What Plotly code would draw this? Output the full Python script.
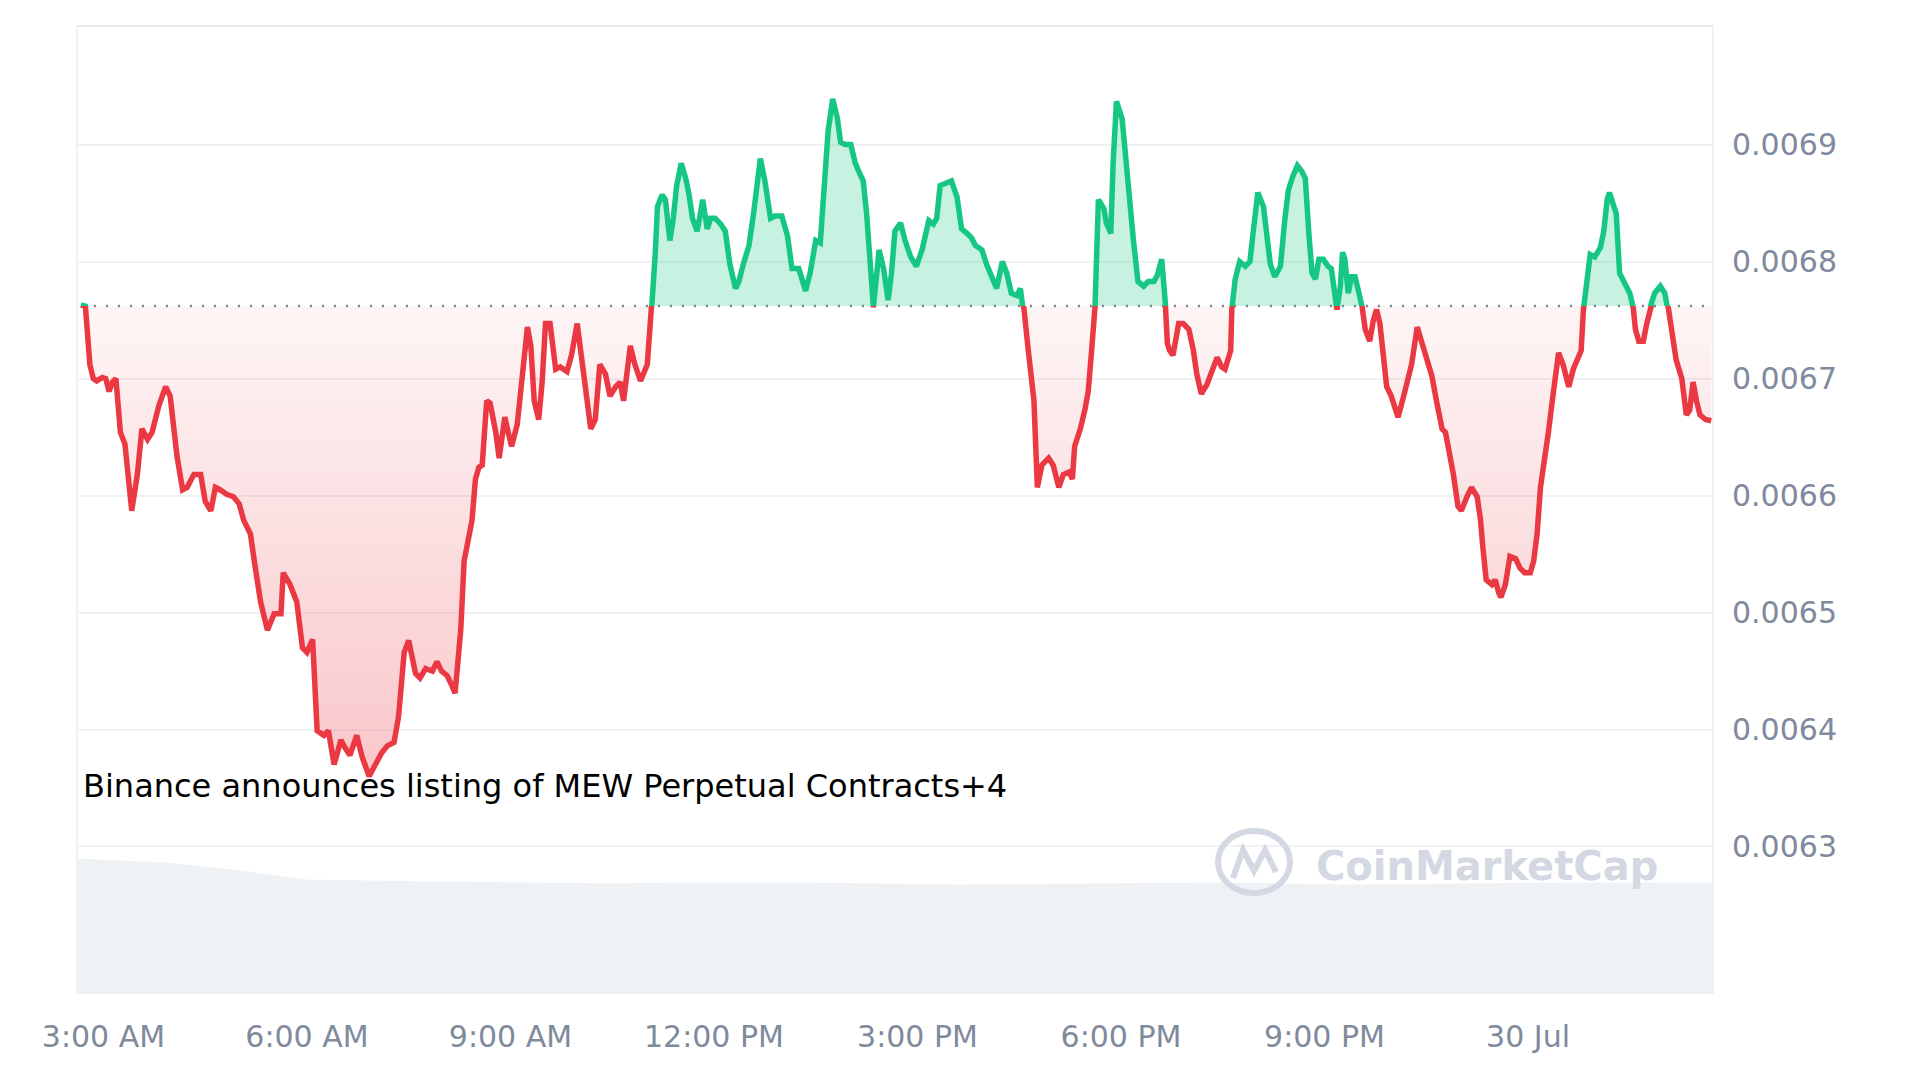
import pandas as pd
import plotly.graph_objects as go

DAY = pd.Timestamp("2024-07-29")

# price line: minutes after 29 Jul 00:00, price in USD
MINUTES = [
    # 02:40 - 06:34
    160, 164, 168, 171, 174, 179, 182, 185, 188, 191,
    195, 199, 205, 210, 214, 219, 223, 229, 235, 239,
    245, 250, 254, 260, 266, 270, 275, 279, 283, 289,
    295, 300, 304, 310, 314, 319, 325, 328, 331, 337,
    339, 345, 351, 356, 360, 365, 369, 375, 379, 384,
    390, 394,
    # 06:38 - 10:37
    398, 404, 409, 415, 420, 426, 431, 437, 441, 446,
    450, 456, 460, 465, 471, 475, 479, 484, 488, 491,
    496, 499, 503, 506, 509, 512, 515, 519, 522, 527,
    530, 532, 535, 538, 541, 546, 550, 555, 558, 561,
    565, 568, 571, 575, 580, 584, 590, 594, 599, 603,
    606, 611, 615, 619, 624, 628, 633, 637,
    # 10:40 - 14:40
    640, 643, 646, 650, 655, 661, 664, 665, 668, 670,
    674, 677, 681, 684, 687, 691, 695, 698, 701, 705,
    708, 710, 714, 717, 721, 726, 730, 734, 739, 742,
    746, 751, 755, 761, 765, 770, 774, 780, 785, 789,
    795, 801, 805, 810, 814, 817, 821, 825, 829, 832,
    836, 841, 845, 849, 852, 855, 858, 861, 864, 866,
    870, 874, 877, 880,
    # 14:45 - 18:43
    885, 889, 894, 899, 904, 910, 914, 917, 920, 925,
    930, 935, 939, 944, 948, 951, 957, 961, 966, 970,
    975, 979, 983, 988, 991, 994, 998, 1003, 1006, 1010,
    1016, 1020, 1025, 1029, 1034, 1037, 1039, 1044, 1048, 1051,
    1054, 1057, 1060, 1065, 1067, 1071, 1073, 1076, 1081, 1084,
    1087, 1091, 1095, 1100, 1104, 1109, 1112, 1116, 1119, 1121,
    1123,
    # 18:46 - 22:47
    1126, 1131, 1135, 1140, 1144, 1147, 1151, 1156, 1160, 1165,
    1169, 1172, 1177, 1178, 1181, 1185, 1190, 1194, 1197, 1201,
    1206, 1209, 1212, 1216, 1221, 1225, 1228, 1232, 1236, 1240,
    1243, 1246, 1249, 1252, 1255, 1259, 1263, 1266, 1271, 1274,
    1276, 1278, 1281, 1284, 1287, 1290, 1293, 1296, 1300, 1303,
    1306, 1309, 1312, 1315, 1319, 1325, 1330, 1334, 1337, 1342,
    1346, 1350, 1355, 1359, 1364, 1367,
    # 22:54 - 02:42 (30 Jul)
    1374, 1378, 1381, 1386, 1390, 1395, 1398, 1400, 1403, 1408,
    1411, 1414, 1416, 1420, 1424, 1429, 1433, 1437, 1442, 1445,
    1448, 1451, 1454, 1458, 1462, 1467, 1471, 1476, 1480, 1485,
    1487, 1489, 1492, 1495, 1499, 1504, 1507, 1510, 1512, 1515,
    1518, 1521, 1526, 1530, 1533, 1535, 1538, 1542, 1545, 1548,
    1552, 1557, 1561, 1564, 1567, 1571, 1576, 1580, 1583, 1586,
    1589, 1592, 1597, 1602,
]

PRICE = [
    0.006763, 0.006762, 0.006712, 0.006700, 0.006698, 0.006701, 0.006700, 0.006689, 0.006697, 0.006700,
    0.006654, 0.006644, 0.006587, 0.006618, 0.006657, 0.006648, 0.006654, 0.006677, 0.006693, 0.006685,
    0.006634, 0.006605, 0.006607, 0.006618, 0.006618, 0.006595, 0.006587, 0.006607, 0.006605, 0.006601,
    0.006599, 0.006593, 0.006579, 0.006567, 0.006540, 0.006509, 0.006485, 0.006493, 0.006499, 0.006499,
    0.006534, 0.006524, 0.006509, 0.006470, 0.006466, 0.006477, 0.006399, 0.006395, 0.006399, 0.006370,
    0.006391, 0.006384,

    0.006378, 0.006395, 0.006376, 0.006360, 0.006370, 0.006380, 0.006386, 0.006389, 0.006411, 0.006466,
    0.006476, 0.006448, 0.006444, 0.006452, 0.006450, 0.006458, 0.006450, 0.006446, 0.006438, 0.006431,
    0.006485, 0.006544, 0.006564, 0.006579, 0.006614, 0.006624, 0.006626, 0.006681, 0.006679, 0.006654,
    0.006632, 0.006646, 0.006667, 0.006654, 0.006642, 0.006661, 0.006697, 0.006744, 0.006728, 0.006681,
    0.006665, 0.006697, 0.006747, 0.006747, 0.006708, 0.006710, 0.006706, 0.006720, 0.006747, 0.006716,
    0.006689, 0.006657, 0.006665, 0.006712, 0.006704, 0.006685, 0.006693, 0.006697,

    0.006681, 0.006708, 0.006728, 0.006712, 0.006698, 0.006712, 0.006744, 0.006762, 0.006806, 0.006847,
    0.006857, 0.006853, 0.006818, 0.006837, 0.006865, 0.006884, 0.006871, 0.006857, 0.006837, 0.006826,
    0.006841, 0.006853, 0.006828, 0.006837, 0.006837, 0.006832, 0.006826, 0.006798, 0.006777, 0.006783,
    0.006798, 0.006814, 0.006841, 0.006888, 0.006869, 0.006837, 0.006839, 0.006839, 0.006822, 0.006794,
    0.006794, 0.006775, 0.006790, 0.006818, 0.006816, 0.006861, 0.006912, 0.006939, 0.006923, 0.006902,
    0.006900, 0.006900, 0.006884, 0.006875, 0.006869, 0.006841, 0.006798, 0.006761, 0.006790, 0.006810,
    0.006794, 0.006767, 0.006790, 0.006826,

    0.006833, 0.006818, 0.006804, 0.006796, 0.006810, 0.006835, 0.006832, 0.006837, 0.006865, 0.006867,
    0.006869, 0.006855, 0.006828, 0.006824, 0.006820, 0.006814, 0.006810, 0.006798, 0.006787, 0.006777,
    0.006800, 0.006790, 0.006773, 0.006771, 0.006777, 0.006761, 0.006724, 0.006681, 0.006607, 0.006626,
    0.006632, 0.006626, 0.006607, 0.006618, 0.006620, 0.006614, 0.006642, 0.006657, 0.006673, 0.006689,
    0.006724, 0.006761, 0.006853, 0.006845, 0.006833, 0.006824, 0.006884, 0.006937, 0.006922, 0.006888,
    0.006853, 0.006818, 0.006783, 0.006779, 0.006783, 0.006783, 0.006788, 0.006802, 0.006767, 0.006730,
    0.006724,

    0.006720, 0.006747, 0.006747, 0.006742, 0.006724, 0.006704, 0.006687, 0.006695, 0.006704, 0.006718,
    0.006710, 0.006708, 0.006724, 0.006759, 0.006785, 0.006800, 0.006796, 0.006800, 0.006826, 0.006859,
    0.006847, 0.006822, 0.006798, 0.006787, 0.006796, 0.006837, 0.006861, 0.006873, 0.006882, 0.006877,
    0.006871, 0.006826, 0.006790, 0.006785, 0.006802, 0.006802, 0.006796, 0.006794, 0.006759, 0.006779,
    0.006808, 0.006802, 0.006773, 0.006787, 0.006787, 0.006775, 0.006763, 0.006742, 0.006732, 0.006749,
    0.006759, 0.006747, 0.006724, 0.006693, 0.006685, 0.006667, 0.006685, 0.006700, 0.006712, 0.006744,
    0.006732, 0.006720, 0.006702, 0.006681, 0.006657, 0.006654,

    0.006618, 0.006591, 0.006587, 0.006599, 0.006607, 0.006599, 0.006579, 0.006556, 0.006528, 0.006524,
    0.006528, 0.006517, 0.006513, 0.006524, 0.006548, 0.006546, 0.006538, 0.006534, 0.006534, 0.006544,
    0.006567, 0.006607, 0.006626, 0.006654, 0.006685, 0.006722, 0.006712, 0.006693, 0.006708, 0.006718,
    0.006724, 0.006759, 0.006783, 0.006806, 0.006804, 0.006812, 0.006826, 0.006853, 0.006859, 0.006851,
    0.006841, 0.006790, 0.006779, 0.006773, 0.006761, 0.006742, 0.006732, 0.006732, 0.006747, 0.006761,
    0.006773, 0.006779, 0.006773, 0.006761, 0.006740, 0.006716, 0.006700, 0.006669, 0.006673, 0.006697,
    0.006681, 0.006669, 0.006665, 0.006664,
]

OPEN_PRICE = 0.006762  # dotted reference line, price at the start of the window

# grey volume band at the bottom (rough 24h volume, millions)
VOL_MINUTES = [157, 235, 295, 327, 359, 468, 630, 685, 793, 938, 1172, 1280, 1497, 1603]
VOLUME = [13.6, 13.2, 12.5, 12.0, 11.5, 11.3, 11.1, 11.2, 11.2, 11.0, 11.2, 11.0, 11.2, 11.2]

TICK_MINUTES = [180, 360, 540, 720, 900, 1080, 1260, 1440]
TICK_LABELS = ["3:00 AM", "6:00 AM", "9:00 AM", "12:00 PM", "3:00 PM", "6:00 PM", "9:00 PM", "30 Jul"]
PRICE_TICKS_UP = [0.0068, 0.0069]
PRICE_TICKS_DOWN = [0.0063, 0.0064, 0.0065, 0.0066, 0.0067]

X_RANGE = [156.6, 1603.6]
Y_RANGE = [0.0061739, 0.0070014]

EVENT_TEXT = "Binance announces listing of MEW Perpetual Contracts+4"

GREEN = "#16c784"
RED = "#ea3943"
GRID = "#eff1f4"
MUTED = "#808a9d"
WATERMARK = "#d3d8e2"
FONT = "DejaVu Sans"

# the page body keeps its default 8px margin, so the figure is 16px smaller than the window
BODY = 8
W, H = 1920 - 2 * BODY, 1080 - 2 * BODY
MARGIN = dict(l=69, r=199, t=18, b=78)
PW = W - MARGIN["l"] - MARGIN["r"]
PH = H - MARGIN["t"] - MARGIN["b"]


def ts(minutes):
    return [DAY + pd.Timedelta(minutes=float(m)) for m in minutes]


def paper(px, py):
    # screen pixel -> paper fraction
    return (px - BODY - MARGIN["l"]) / PW, (H - MARGIN["b"] - (py - BODY)) / PH


t = ts(MINUTES)
t_edges = ts(X_RANGE)
split = (OPEN_PRICE - Y_RANGE[0]) / (Y_RANGE[1] - Y_RANGE[0])

fig = go.Figure()

# volume band
fig.add_trace(go.Scatter(
    x=ts(VOL_MINUTES), y=VOLUME, yaxis="y3", mode="lines",
    line=dict(width=0), fill="tozeroy", fillcolor="#eff2f5", hoverinfo="skip",
))

# upper subplot (above the open price) shows the green part, clipped at the open line
fig.add_trace(go.Scatter(
    x=t_edges, y=[Y_RANGE[0]] * 2, yaxis="y", mode="lines",
    line=dict(width=0), hoverinfo="skip",
))
fig.add_trace(go.Scatter(
    x=t, y=PRICE, yaxis="y", mode="lines",
    line=dict(color=GREEN, width=5.5), fill="tonexty",
    fillcolor="rgba(22,199,132,0.24)",
    hovertemplate="%{x|%b %d %H:%M}<br>$%{y:.6f}<extra></extra>",
))

# lower subplot (below the open price) shows the red part
fig.add_trace(go.Scatter(
    x=t_edges, y=[Y_RANGE[1]] * 2, yaxis="y2", mode="lines",
    line=dict(width=0), hoverinfo="skip",
))
fig.add_trace(go.Scatter(
    x=t, y=PRICE, yaxis="y2", mode="lines",
    line=dict(color=RED, width=5.5), fill="tonexty",
    fillgradient=dict(
        type="vertical", start=min(PRICE), stop=OPEN_PRICE,
        colorscale=[[0, "rgba(234,57,67,0.28)"], [1, "rgba(234,57,67,0.05)"]],
    ),
    hovertemplate="%{x|%b %d %H:%M}<br>$%{y:.6f}<extra></extra>",
))

price_axis = dict(
    side="right", anchor="x", showgrid=True, gridcolor=GRID, gridwidth=2,
    zeroline=False, showline=False, ticks="", tickformat=".4f",
    tickfont=dict(family=FONT, size=30, color=MUTED), ticklabelstandoff=18,
)

fig.update_layout(
    width=W, height=H, margin=MARGIN,
    paper_bgcolor="white", plot_bgcolor="rgba(0,0,0,0)",
    showlegend=False, font=dict(family=FONT),
    xaxis=dict(
        type="date", range=t_edges, anchor="y2",
        tickvals=ts(TICK_MINUTES), ticktext=TICK_LABELS,
        showgrid=False, zeroline=False, showline=False, ticks="",
        tickfont=dict(family=FONT, size=30, color=MUTED), ticklabelstandoff=22,
    ),
    yaxis=dict(domain=[split, 1], range=[OPEN_PRICE, Y_RANGE[1]], tickvals=PRICE_TICKS_UP, **price_axis),
    yaxis2=dict(domain=[0, split], range=[Y_RANGE[0], OPEN_PRICE], tickvals=PRICE_TICKS_DOWN, **price_axis),
    yaxis3=dict(domain=[0, 0.2], range=[0, max(VOLUME) * 0.2 / 0.14], visible=False, anchor="x"),
)

# frame and dotted open-price line
fig.add_shape(type="line", xref="paper", yref="paper", x0=0, x1=1, y0=1, y1=1,
              line=dict(color="#e6e8eb", width=2), layer="below")
for xe in (0, 1):
    fig.add_shape(type="line", xref="paper", yref="paper", x0=xe, x1=xe, y0=0, y1=1,
                  line=dict(color="#f0f1f3", width=2), layer="below")
fig.add_shape(type="line", xref="paper", yref="paper", x0=0.003, x1=1, y0=split, y1=split,
              line=dict(color="#7c8190", width=2.5, dash="2px,10px"), layer="between")

# event label
ex, ey = paper(81, 786)
fig.add_annotation(x=ex, y=ey, xref="paper", yref="paper", text=EVENT_TEXT, showarrow=False,
                   xanchor="left", yanchor="middle", font=dict(family=FONT, size=32, color="#000000"))

# CoinMarketCap watermark
cx0, cy0 = paper(1218, 893)
cx1, cy1 = paper(1290, 831)
fig.add_shape(type="circle", xref="paper", yref="paper", x0=cx0, y0=cy0, x1=cx1, y1=cy1,
              line=dict(color=WATERMARK, width=6))
pts = [paper(*p) for p in [(1233, 878), (1243, 850), (1254, 871), (1265, 850), (1276, 872)]]
path = "M " + " L ".join(f"{x:.5f},{y:.5f}" for x, y in pts)
fig.add_shape(type="path", xref="paper", yref="paper", path=path,
              line=dict(color=WATERMARK, width=6))
wx, wy = paper(1314, 866)
fig.add_annotation(x=wx, y=wy, xref="paper", yref="paper", text="CoinMarketCap", showarrow=False,
                   xanchor="left", yanchor="middle",
                   font=dict(family=FONT, size=40, color=WATERMARK, weight=700))

fig.write_html("out.html")
